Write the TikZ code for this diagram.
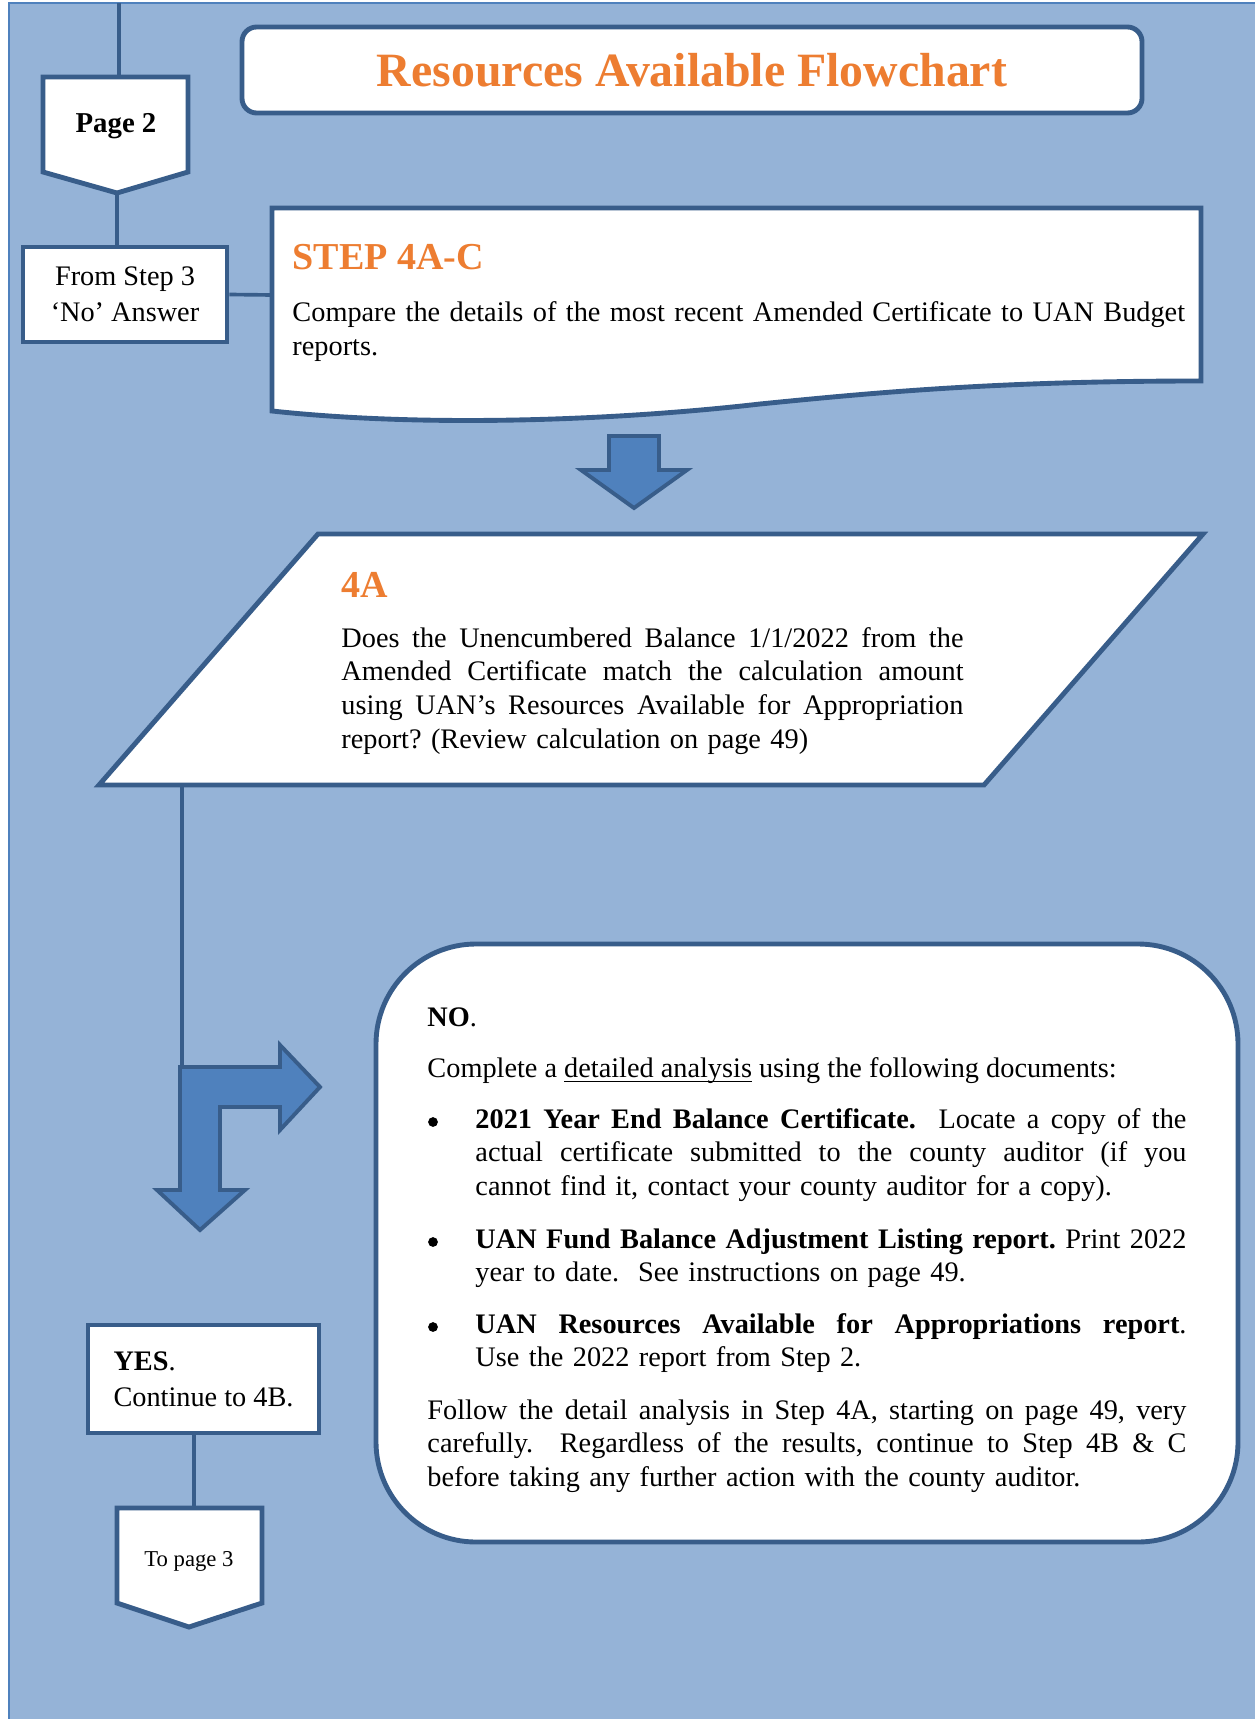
\documentclass[tikz,border=0pt]{standalone}
\usepackage{fontspec}
\setmainfont{Liberation Serif}
\usetikzlibrary{positioning}
\definecolor{panelblue}{HTML}{95B3D7}
\definecolor{panelrule}{HTML}{4F81BD}
\definecolor{shapeblue}{HTML}{385D8A}
\definecolor{arrowblue}{HTML}{4F81BD}
\definecolor{steporange}{HTML}{ED7D31}
\def\px{0.41pt}
\def\pagetwo{(43,77) -- (188,77) -- (188,172) -- (117,193) -- (43,172) -- cycle}
\def\topagethree{(117,1508) -- (262,1508) -- (262,1603) -- (189,1627) -- (117,1603) -- cycle}
\def\stepdoc{(272,208) -- (1201,208) -- (1201,381) .. controls (1000,381) and (880,392) .. (760,404) .. controls (620,420) and (430,428) .. (272,411) -- cycle}
\def\decision{(318,534) -- (1203,534) -- (984,785) -- (99,785) -- cycle}
\def\arrowdown{(609,436) -- (659,436) -- (659,470) -- (687,470) -- (634,508) -- (581,470) -- (609,470) -- cycle}
\def\arrowbent{(180,1067) -- (280,1067) -- (280,1045) -- (320,1087) -- (280,1130) -- (280,1107) -- (220,1107) -- (220,1190) -- (245,1190) -- (200,1230) -- (157,1190) -- (180,1190) -- cycle}
\newcommand\jline[1]{\noindent\hbox to \hsize{\spaceskip=0pt\xspaceskip=0pt\relax #1}\\}
\newcommand\ulinetext[1]{\leavevmode\setbox0\hbox{#1}\rlap{\rule[-2.2pt]{\wd0}{0.6pt}}\box0\relax}
\frenchspacing
\hbadness=10000
\tikzset{
	shapebox/.style={draw=shapeblue, fill=white, line width=2pt},
	linkline/.style={draw=shapeblue, line width=1.5pt},
	blockarrow/.style={draw=shapeblue, fill=arrowblue, line width=1.6pt},
	bodytext/.style={inner sep=0pt, align=left, font=\fontsize{11.6}{13.9}\selectfont},
	headtext/.style={inner sep=0pt, text=steporange, font=\fontsize{15.6}{19}\selectfont\bfseries},
	boxtext/.style={font=\fontsize{11.6}{14.8}\selectfont},
	listdot/.style={circle, fill=black, inner sep=0pt, minimum size=4pt}
}

\begin{document}
\begin{tikzpicture}[x=\px, y=-\px]
			\useasboundingbox (0,0) rectangle (1255,1719);
			\fill[panelblue] (9,3) rectangle (1255,1719);
			\draw[panelrule, line width=0.8pt] (9,1719) -- (9,3) -- (1255,3);

			\coordinate (pagetop) at (119,3);
			\coordinate (pagein) at (119,77);
			\coordinate (pagetip) at (117,193);
			\coordinate (stepleft) at (272,295);
			\coordinate (decout) at (182,785);
			\coordinate (bendtop) at (182,1067);
			\coordinate (topin) at (194,1508);

			\node[shapebox, rounded corners=6pt, minimum width=900*\px, minimum height=86*\px, text=steporange, font=\fontsize{19.6}{24}\selectfont\bfseries] (title) at (692,70) {Resources Available Flowchart};

			\node[shapebox, boxtext, minimum width=204*\px, minimum height=95*\px, align=center, inner sep=0pt] (fromstep) at (125,294.5) {From Step 3\\`No' Answer};
			\draw[linkline] (pagetop) -- (pagein);
			\draw[linkline] (pagetip) -- (pagetip |- fromstep.north);
			\draw[linkline] (fromstep.east) -- (stepleft);
			\draw[linkline] (decout) -- (bendtop);

			\filldraw[shapebox] \pagetwo;
			\node[font=\fontsize{11.8}{14}\selectfont\bfseries, anchor=base] (pagelabel) at (116,133) {Page 2};

			\filldraw[shapebox] \stepdoc;
			\node[headtext, anchor=base west] (steptitle) at (292,270) {STEP 4A-C};
			\node[bodytext, text width=900*\px, anchor=base west] (steptext) at (292,322) {Compare the details of the most recent Amended Certificate to UAN Budget reports.};

			\filldraw[blockarrow] \arrowdown;

			\filldraw[shapebox] \decision;
			\node[headtext, anchor=base west] (dectitle) at (341,597) {4A};
			\node[bodytext, text width=622*\px, anchor=base west] (dectext) at (341,647) {\jline{Does the Unencumbered Balance 1/1/2022 from the}\jline{Amended Certificate match the calculation amount}\jline{using UAN’s Resources Available for Appropriation}report? (Review calculation on page 49)};

			\filldraw[blockarrow] \arrowbent;

			\node[shapebox, rounded corners=41pt, minimum width=862*\px, minimum height=598*\px] (nobox) at (807,1243) {};
			\node[bodytext, anchor=base west] (notitle) at (427,1026) {\textbf{NO}.};
			\node[bodytext, anchor=base west] (nolead) at (427,1077) {Complete a \ulinetext{detailed analysis} using the following documents:};
			\node[listdot] (dotone) at (433,1122) {};
			\node[bodytext, text width=711*\px, anchor=base west] (itemone) at (475,1128) {\jline{\textbf{2021 Year End Balance Certificate.}\ \ Locate a copy of the}\jline{actual certificate submitted to the county auditor (if you}cannot find it, contact your county auditor for a copy).};
			\node[listdot] (dottwo) at (433,1242) {};
			\node[bodytext, text width=711*\px, anchor=base west] (itemtwo) at (475,1248) {\jline{\textbf{UAN Fund Balance Adjustment Listing report.} Print 2022}year to date.\ \ See instructions on page 49.};
			\node[listdot] (dotthree) at (433,1327) {};
			\node[bodytext, text width=711*\px, anchor=base west] (itemthree) at (475,1333) {\jline{\textbf{UAN Resources Available for Appropriations report}.}Use the 2022 report from Step 2.};
			\node[bodytext, text width=759*\px, anchor=base west] (nofollow) at (427,1419) {\jline{Follow the detail analysis in Step 4A, starting on page 49, very}\jline{carefully.\ \ Regardless of the results, continue to Step 4B \& C}before taking any further action with the county auditor.};

			\node[shapebox, boxtext, minimum width=231*\px, minimum height=108*\px, align=left] (yes) at (203.5,1379) {\textbf{YES}.\\Continue to 4B.};
			\draw[linkline] (yes.south -| topin) -- (topin);
			\filldraw[shapebox] \topagethree;
			\node[font=\fontsize{9.3}{11}\selectfont, anchor=base] (topagelabel) at (189,1566) {To page 3};
		\end{tikzpicture}
\end{document}
